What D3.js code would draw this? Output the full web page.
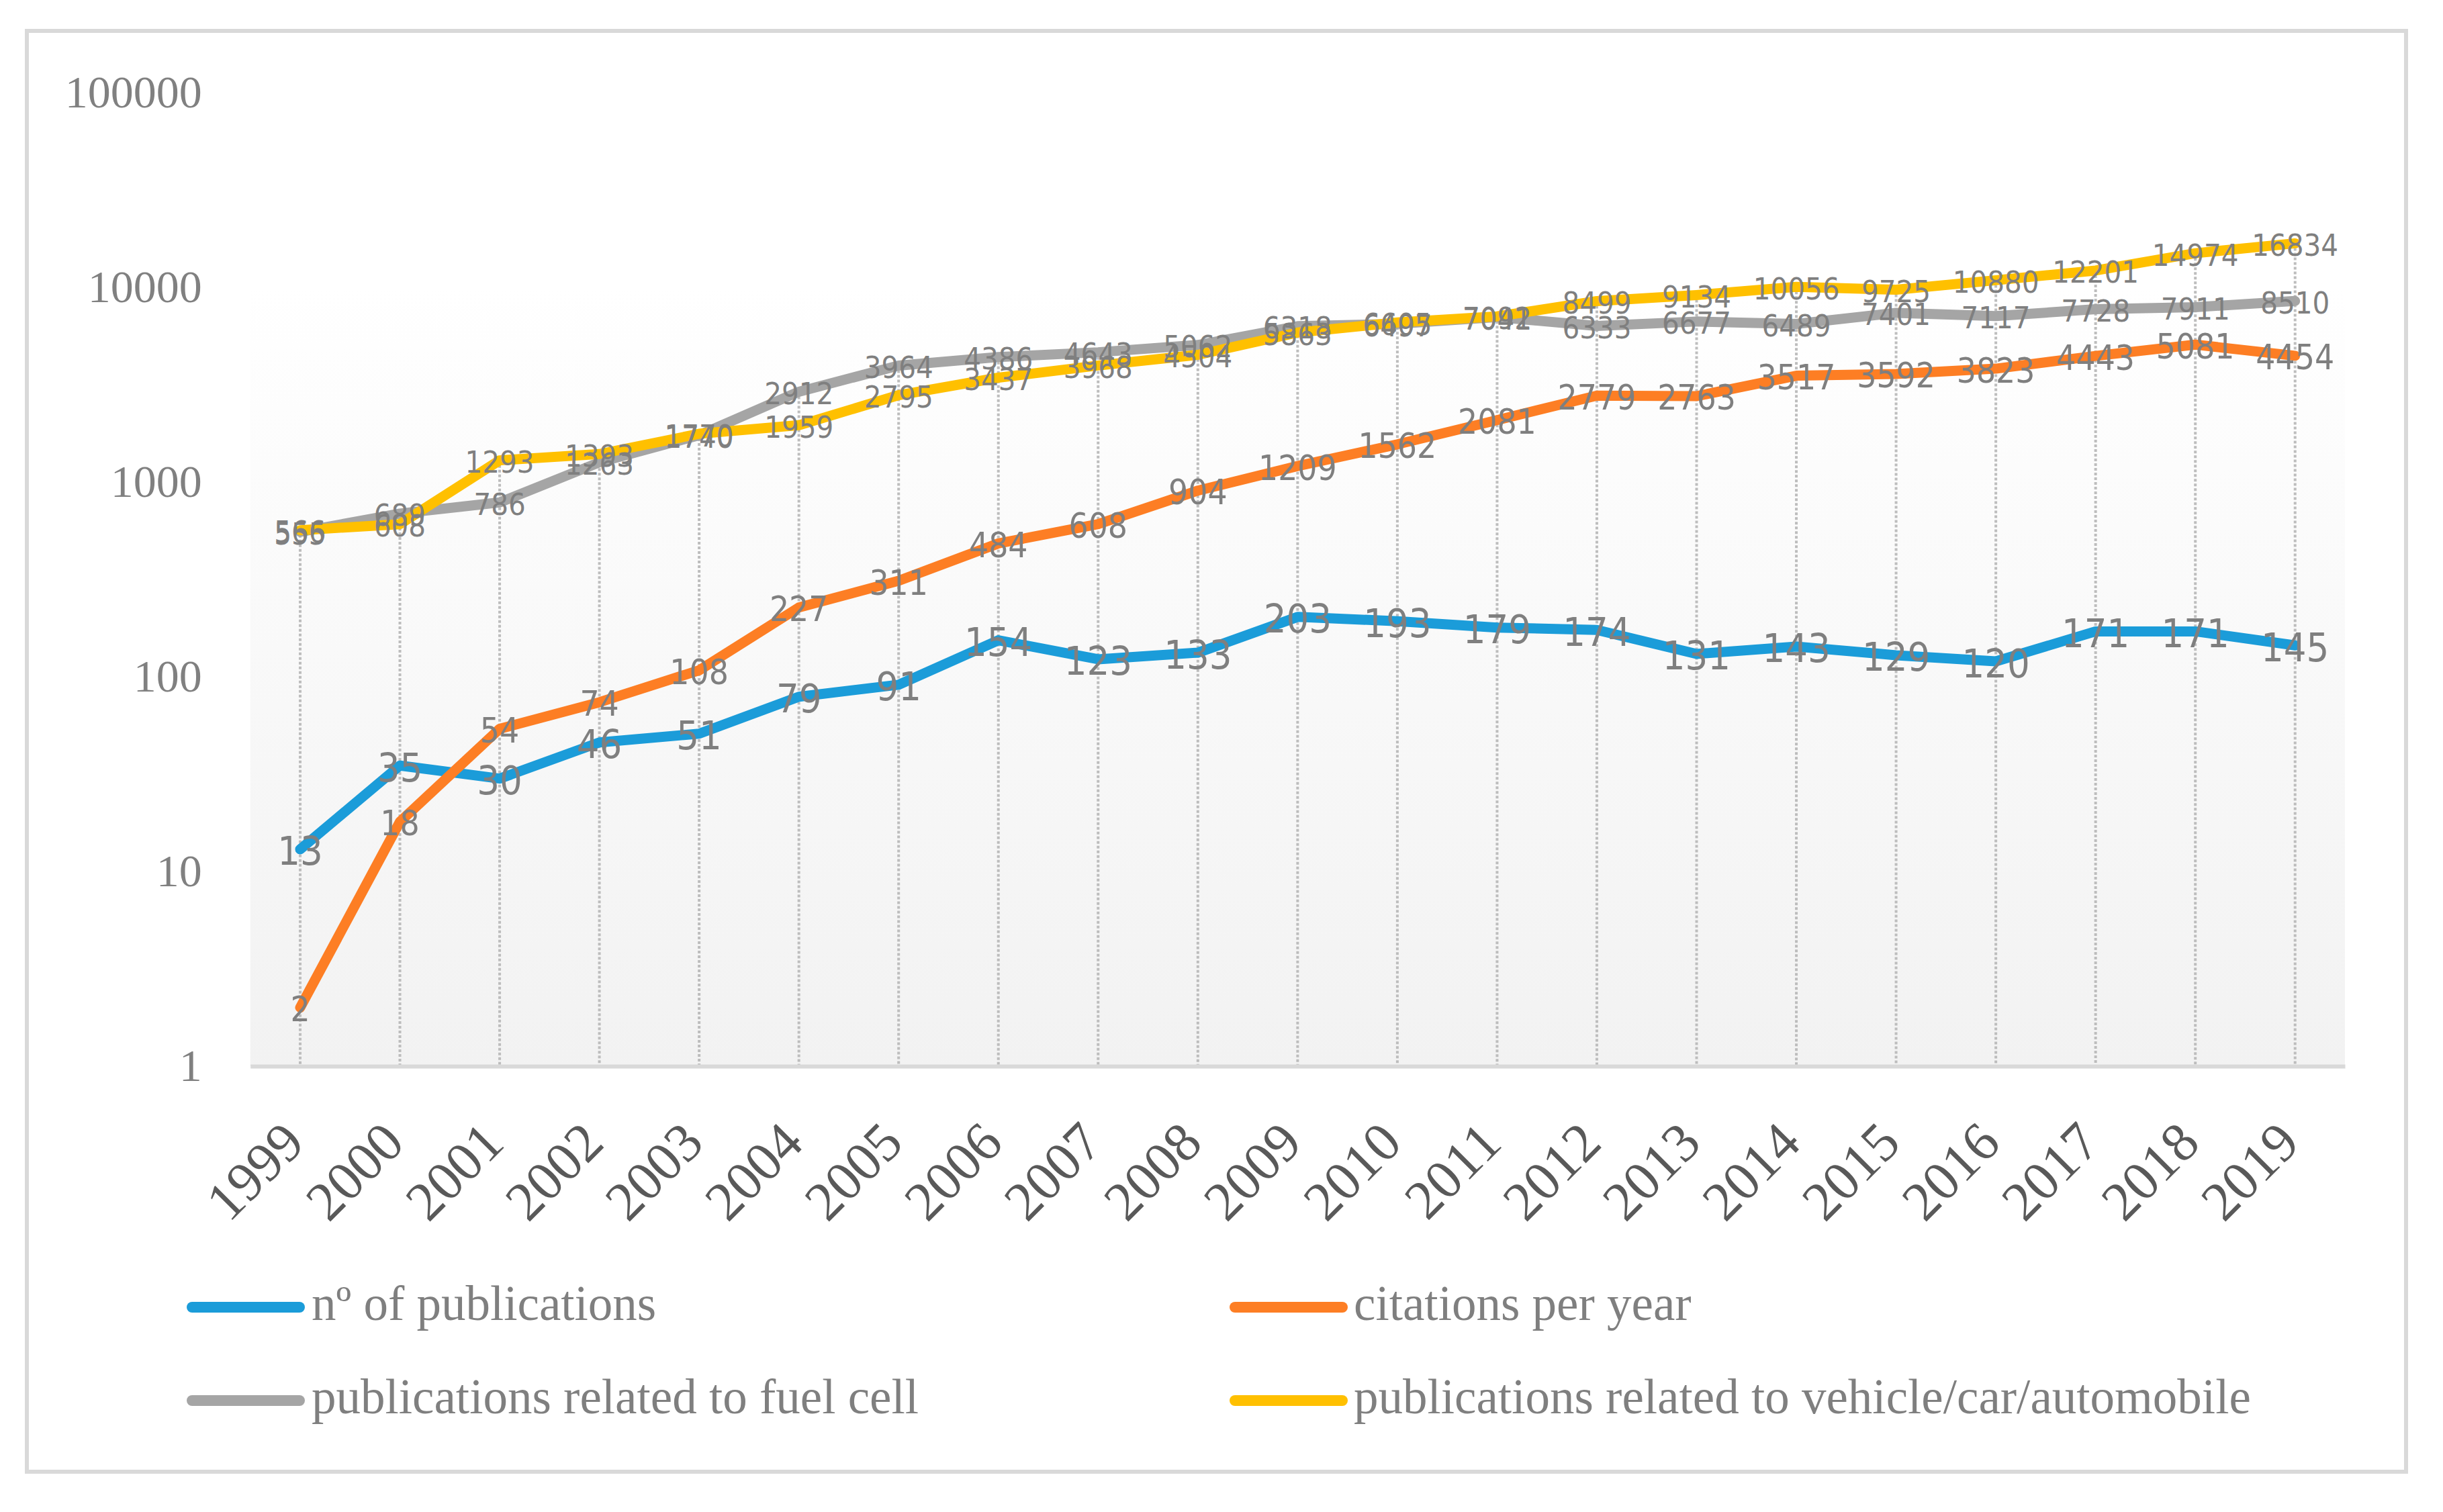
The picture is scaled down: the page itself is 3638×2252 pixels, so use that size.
<!DOCTYPE html>
<html>
<head>
<meta charset="utf-8">
<script src="https://cdn.jsdelivr.net/npm/d3@7"></script>
<style>
  html, body { margin: 0; padding: 0; background: #ffffff; }
  svg { display: block; }
</style>
</head>
<body>
<div id="chart"></div>
<script>
// data
var years = ["1999","2000","2001","2002","2003","2004","2005","2006","2007","2008","2009",
             "2010","2011","2012","2013","2014","2015","2016","2017","2018","2019"];
var publications = [13, 35, 30, 46, 51, 79, 91, 154, 123, 133, 203, 193, 179, 174, 131, 143, 129, 120, 171, 171, 145];
var citations = [2, 18, 54, 74, 108, 227, 311, 484, 608, 904, 1209, 1562, 2081, 2779, 2763, 3517, 3592, 3823, 4443, 5081, 4454];
var fuelCell = [555, 689, 786, 1263, 1740, 2912, 3964, 4386, 4643, 5062, 6318, 6497, 7041, 6333, 6677, 6489, 7401, 7117, 7728, 7911, 8510];
var vehicle = [566, 608, 1293, 1393, 1770, 1959, 2795, 3437, 3968, 4504, 5863, 6605, 7092, 8499, 9134, 10056, 9725, 10880, 12201, 14974, 16834];
var seriesNames = ["nº of publications", "citations per year",
                   "publications related to fuel cell", "publications related to vehicle/car/automobile"];
var yTicks = [1, 10, 100, 1000, 10000, 100000];

var colors = ["#1b9cd9", "#fd7e24", "#a5a5a5", "#ffc000"];
var labelSizes = [59, 51, 45, 45];

var series = [publications, citations, fuelCell, vehicle].map(function (vals, i) {
    return { name: seriesNames[i], color: colors[i], size: labelSizes[i],
             values: vals.map(function (v, j) { return { year: years[j], value: v }; }) };
});

var W = 3638, H = 2252;
var plot = { left: 372.7, right: 3492, top: 138, bottom: 1588 };

var svg = d3.select("#chart").append("svg")
    .attr("width", W)
    .attr("height", H);

var defs = svg.append("defs");
var grad = defs.append("linearGradient")
    .attr("id", "plotfill")
    .attr("x1", 0).attr("y1", 0).attr("x2", 0).attr("y2", 1);
grad.append("stop").attr("offset", "0%").attr("stop-color", "#ffffff");
grad.append("stop").attr("offset", "20%").attr("stop-color", "#ffffff");
grad.append("stop").attr("offset", "100%").attr("stop-color", "#f2f2f2");

// outer frame
svg.append("rect")
    .attr("x", 40).attr("y", 46)
    .attr("width", 3543).attr("height", 2146)
    .attr("fill", "#ffffff")
    .attr("stroke", "#d9d9d9")
    .attr("stroke-width", 6);

svg.append("rect")
    .attr("x", plot.left).attr("y", plot.top)
    .attr("width", plot.right - plot.left).attr("height", plot.bottom - plot.top)
    .attr("fill", "url(#plotfill)");

var x = d3.scaleBand().domain(years).range([plot.left, plot.right]).padding(0);
var y = d3.scaleLog().domain([1, 100000]).range([plot.bottom, plot.top]);
var cx = function (d) { return x(d) + x.bandwidth() / 2; };

// drop lines from the highest point of each year
var tops = years.map(function (yr, j) {
    return { year: yr, value: d3.max(series, function (s) { return s.values[j].value; }) };
});
svg.append("g")
    .selectAll("line")
    .data(tops)
    .enter().append("line")
    .attr("x1", function (d) { return cx(d.year); })
    .attr("x2", function (d) { return cx(d.year); })
    .attr("y1", function (d) { return y(d.value); })
    .attr("y2", y(1))
    .attr("stroke", "#bdbdbd")
    .attr("stroke-width", 4)
    .attr("stroke-dasharray", "4,3");

// y axis
var yAxis = svg.append("g")
    .attr("transform", "translate(" + plot.left + ",0)")
    .call(d3.axisLeft(y).tickValues(yTicks).tickFormat(d3.format("d")).tickSize(0).tickPadding(72));
yAxis.select(".domain").remove();
yAxis.selectAll("text")
    .attr("fill", "#808080")
    .style("font-family", "'Liberation Serif', 'DejaVu Serif', serif")
    .style("font-size", "68px");

// x axis
var xAxis = svg.append("g")
    .attr("transform", "translate(0," + plot.bottom + ")")
    .call(d3.axisBottom(x).tickSize(0).tickSizeOuter(0));
xAxis.select(".domain")
    .attr("stroke", "#d9d9d9")
    .attr("stroke-width", 6);
xAxis.selectAll("text")
    .attr("x", 0).attr("y", 0).attr("dy", 0)
    .attr("transform", "translate(10,118) rotate(-45)")
    .attr("text-anchor", "end")
    .attr("fill", "#595959")
    .style("font-family", "'Liberation Serif', 'DejaVu Serif', serif")
    .style("font-size", "82px");

// lines
var line = d3.line()
    .x(function (d) { return cx(d.year); })
    .y(function (d) { return y(d.value); });

svg.append("g")
    .selectAll("path")
    .data(series)
    .enter().append("path")
    .attr("d", function (s) { return line(s.values); })
    .attr("fill", "none")
    .attr("stroke", function (s) { return s.color; })
    .attr("stroke-width", 15)
    .attr("stroke-linejoin", "round")
    .attr("stroke-linecap", "round");

// data labels, centred on the points
series.forEach(function (s) {
    svg.append("g")
        .selectAll("text")
        .data(s.values)
        .enter().append("text")
        .attr("x", function (d) { return cx(d.year); })
        .attr("y", function (d) { return y(d.value) + 3; })
        .attr("text-anchor", "middle")
        .attr("dominant-baseline", "central")
        .attr("fill", "#7f7f7f")
        .style("font-family", "'Liberation Sans Narrow', 'DejaVu Sans Condensed', 'Roboto', sans-serif")
        .style("font-size", s.size + "px")
        .text(function (d) { return d.value; });
});

// legend
var legendX = [286, 1839], legendTextX = [464, 2016], legendY = [1947, 2086];
var legend = svg.append("g")
    .selectAll("g")
    .data(series)
    .enter().append("g")
    .attr("transform", function (s, i) {
        return "translate(" + legendX[i % 2] + "," + legendY[Math.floor(i / 2)] + ")";
    });
legend.append("line")
    .attr("x1", 0).attr("x2", 160)
    .attr("y1", 0).attr("y2", 0)
    .attr("stroke", function (s) { return s.color; })
    .attr("stroke-width", 16)
    .attr("stroke-linecap", "round");
legend.append("text")
    .attr("x", function (s, i) { return legendTextX[i % 2] - legendX[i % 2]; })
    .attr("y", 19)
    .attr("fill", "#7f7f7f")
    .style("font-family", "'Liberation Serif', 'DejaVu Serif', serif")
    .style("font-size", "73px")
    .text(function (s) { return s.name; });
</script>
</body>
</html>
